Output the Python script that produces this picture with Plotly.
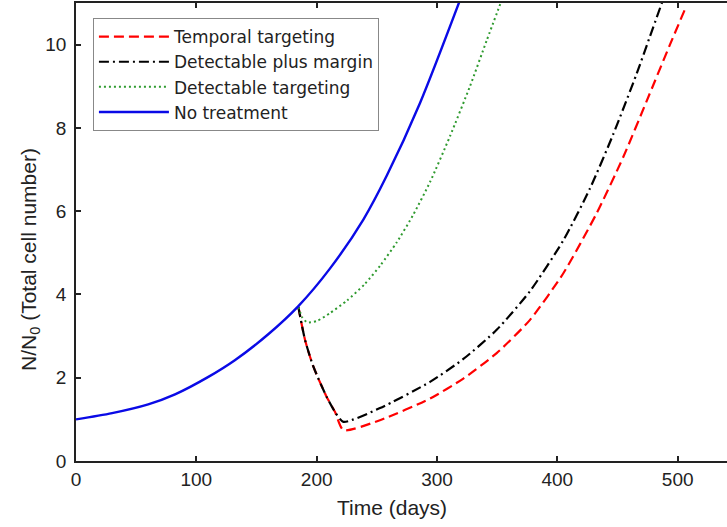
import plotly.graph_objects as go

# ---- data ----
no_treat_days = [0, 30, 60, 82.3, 110, 132, 160, 184.8, 211, 238.8, 258.2, 285.9, 319.1]
no_treat_vals = [1.0, 1.15, 1.36, 1.6, 2.02, 2.42, 3.05, 3.72, 4.62, 5.8, 6.85, 8.6, 11.07]

det_days = [184.8, 188, 192, 200, 211, 225, 240, 253, 266.5, 280, 294.2, 310.8, 327.4, 341.3, 353.8]
det_vals = [3.7, 3.45, 3.33, 3.36, 3.55, 3.85, 4.25, 4.7, 5.25, 5.9, 6.7, 7.8, 9.0, 10.1, 11.07]

margin_days = [184.8, 190.3, 197.2, 208.3, 215.2, 222.2, 252.6, 294.2, 321.9, 349.6, 377.3, 405, 427.2, 446.5, 465.9, 477, 488.1]
margin_vals = [3.7, 2.91, 2.27, 1.54, 1.18, 0.94, 1.27, 1.9, 2.45, 3.15, 4.08, 5.3, 6.55, 7.85, 9.3, 10.2, 11.1]

temporal_days = [184.8, 190.3, 197.2, 208.3, 215.2, 222.2, 252.6, 294.2, 321.9, 349.6, 377.3, 405, 432.7, 454.8, 474.3, 493.6, 506.1]
temporal_vals = [3.7, 2.91, 2.27, 1.54, 1.18, 0.74, 0.98, 1.5, 1.98, 2.59, 3.39, 4.51, 5.95, 7.3, 8.65, 10.0, 10.85]

x_ticks = [0, 100, 200, 300, 400, 500]
y_ticks = [0, 2, 4, 6, 8, 10]

FONT = "Liberation Sans, Arial, sans-serif"
LEG_FONT = "DejaVu Sans, sans-serif"

fig = go.Figure()
fig.add_trace(go.Scatter(x=temporal_days, y=temporal_vals, mode="lines", name="Temporal targeting",
                         line=dict(color="#ff0000", width=2.2, dash="10px,5px", shape="spline", smoothing=0.6)))
fig.add_trace(go.Scatter(x=margin_days, y=margin_vals, mode="lines", name="Detectable plus margin",
                         line=dict(color="#000000", width=2.2, dash="10px,4px,2px,4px", shape="spline", smoothing=0.6)))
fig.add_trace(go.Scatter(x=det_days, y=det_vals, mode="lines", name="Detectable targeting",
                         line=dict(color="#2e9a2e", width=2, dash="2px,3px", shape="spline", smoothing=0.6)))
fig.add_trace(go.Scatter(x=no_treat_days, y=no_treat_vals, mode="lines", name="No treatment",
                         line=dict(color="#0a0ae6", width=2.4, shape="spline", smoothing=0.8)))

fig.update_layout(
    width=727, height=527,
    margin=dict(l=76, r=0, t=3, b=66),
    paper_bgcolor="white", plot_bgcolor="white",
    font=dict(family=FONT, size=19, color="#222"),
    showlegend=True,
    legend=dict(x=0.026, y=0.967, xanchor="left", yanchor="top",
                bordercolor="#888", borderwidth=1, bgcolor="white",
                font=dict(size=17, family=LEG_FONT, color="#222"), itemwidth=70),
    xaxis=dict(range=[0, 541], tickvals=x_ticks, ticks="inside", ticklen=5, tickwidth=1.5,
               tickcolor="#222", showline=True, linecolor="#222", linewidth=1.8, mirror="ticks",
               showgrid=False, zeroline=False, tickfont=dict(size=19)),
    yaxis=dict(range=[0, 11], tickvals=y_ticks, ticks="inside", ticklen=5, tickwidth=1.5,
               tickcolor="#222", showline=True, linecolor="#222", linewidth=1.8, mirror=False,
               showgrid=False, zeroline=False, tickfont=dict(size=19), ticklabelstandoff=4),
    annotations=[
        dict(text="Time (days)", x=0.486, y=-0.1026, xref="paper", yref="paper",
             showarrow=False, font=dict(size=21), xanchor="center", yanchor="middle"),
        dict(text="N/N<sub>0</sub> (Total cell number)", x=-0.0707, y=0.441, xref="paper", yref="paper",
             showarrow=False, font=dict(size=21), textangle=-90, xanchor="center", yanchor="middle"),
    ],
)

fig.write_html("out.html")
